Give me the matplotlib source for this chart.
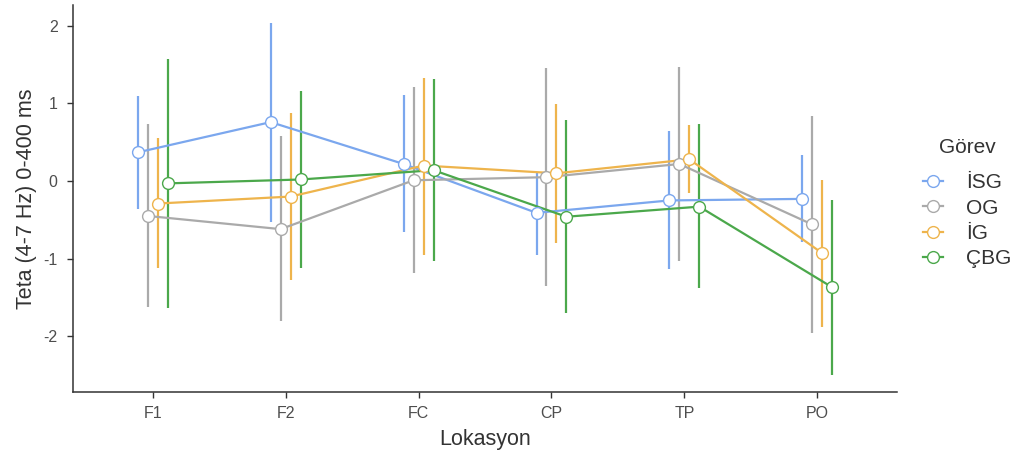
import matplotlib.pyplot as plt
from matplotlib.lines import Line2D
import numpy as np

plt.rcParams['font.family'] = ['Liberation Sans', 'DejaVu Sans']
plt.rcParams['axes.unicode_minus'] = False

# locations and task groups
locations = ['F1', 'F2', 'FC', 'CP', 'TP', 'PO']
tasks = ['İSG', 'OG', 'İG', 'ÇBG']
colors = ['#7ba7ee', '#aaaaaa', '#eeb44c', '#4ba84b']

# group means
mean_isg = [0.37, 0.76, 0.22, -0.41, -0.25, -0.23]
mean_og = [-0.45, -0.62, 0.01, 0.05, 0.22, -0.56]
mean_ig = [-0.29, -0.20, 0.20, 0.10, 0.28, -0.93]
mean_cbg = [-0.03, 0.02, 0.14, -0.46, -0.33, -1.37]

# upper / lower interval limits
upper_isg = [1.10, 2.04, 1.11, 0.12, 0.64, 0.34]
lower_isg = [-0.36, -0.53, -0.66, -0.95, -1.13, -0.78]
upper_og = [0.74, 0.58, 1.21, 1.46, 1.47, 0.84]
lower_og = [-1.63, -1.81, -1.19, -1.35, -1.03, -1.96]
upper_ig = [0.56, 0.88, 1.33, 0.99, 0.72, 0.01]
lower_ig = [-1.12, -1.27, -0.95, -0.80, -0.15, -1.88]
upper_cbg = [1.58, 1.16, 1.32, 0.79, 0.74, -0.24]
lower_cbg = [-1.64, -1.12, -1.03, -1.70, -1.38, -2.50]

means = [mean_isg, mean_og, mean_ig, mean_cbg]
uppers = [upper_isg, upper_og, upper_ig, upper_cbg]
lowers = [lower_isg, lower_og, lower_ig, lower_cbg]

fig = plt.figure(figsize=(10.23, 4.63), dpi=100)
ax = fig.add_axes([73/1023, 71/463, 824/1023, 387/463])

x = np.arange(len(locations))
offsets = [-0.1125, -0.0375, 0.0375, 0.1125]

for i in range(len(tasks)):
    xs = x + offsets[i]
    m = np.array(means[i])
    yerr = [m - np.array(lowers[i]), np.array(uppers[i]) - m]
    ax.errorbar(xs, m, yerr=yerr, fmt='none', ecolor=colors[i], elinewidth=1.6,
                capsize=0, zorder=2)
    ax.plot(xs, m, color=colors[i], linewidth=1.6, zorder=3)
    ax.plot(xs, m, linestyle='none', marker='o', markersize=8.5, markerfacecolor='white',
            markeredgecolor=colors[i], markeredgewidth=1.0, zorder=4)

ax.set_xlim(-0.6, 5.6)
ax.set_ylim(-2.72, 2.27)
ax.set_xticks(x)
ax.set_xticklabels(locations)
ax.set_yticks([-2, -1, 0, 1, 2])
ax.tick_params(colors='#333333', labelcolor='#4d4d4d', labelsize=11.5, length=4, width=1)
ax.tick_params(axis='x', pad=6)
ax.tick_params(axis='y', pad=7)
for side in ['top', 'right']:
    ax.spines[side].set_visible(False)
for side in ['left', 'bottom']:
    ax.spines[side].set_color('#333333')
    ax.spines[side].set_linewidth(1.1)

ax.set_xlabel('Lokasyon', fontsize=15.5, color='#333333', labelpad=6)
ax.set_ylabel('Teta (4-7 Hz) 0-400 ms', fontsize=15.5, color='#333333', labelpad=5)

handles = [Line2D([0], [0], color=c, linewidth=1.6, marker='o', markersize=8.5,
                  markerfacecolor='white', markeredgecolor=c) for c in colors]
leg = fig.legend(handles, tasks, title='Görev', loc='center left',
                 bbox_to_anchor=(908/1023, 1 - 203/463), frameon=False,
                 fontsize=15, title_fontsize=15, handlelength=1.0,
                 handletextpad=1.1, labelspacing=0.3, borderpad=0.2)
leg._legend_box.sep = 12
for t in leg.get_texts():
    t.set_color('#333333')
leg.get_title().set_color('#333333')

plt.savefig('out.png', dpi=100)
